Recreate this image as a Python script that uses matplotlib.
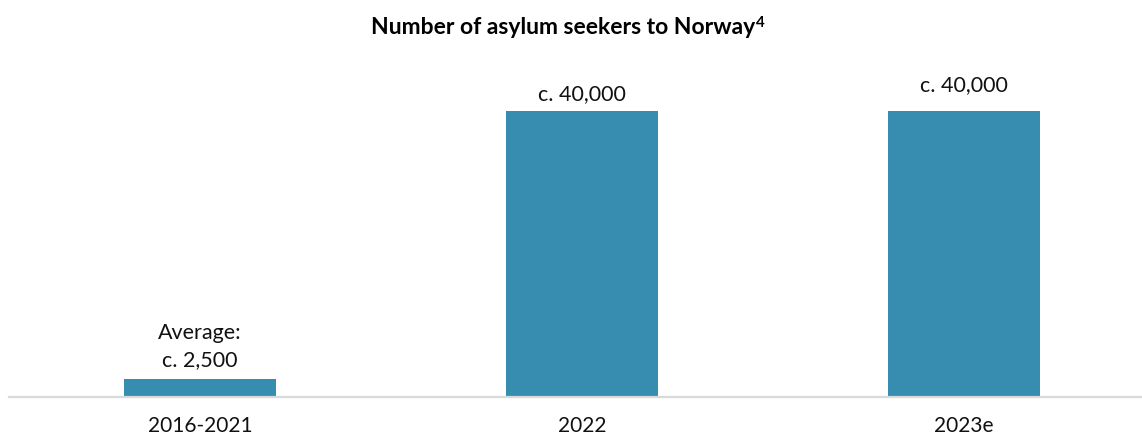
import matplotlib
matplotlib.use("Agg")
import matplotlib.pyplot as plt

# data
categories = ["2016-2021", "2022", "2023e"]
values = [2500, 40000, 40000]
labels = ["Average:\nc. 2,500", "c. 40,000", "c. 40,000"]

plt.rcParams['font.family'] = ['Lato', 'DejaVu Sans']

fig = plt.figure(figsize=(11.42, 4.39), dpi=100)
ax = fig.add_axes([9 / 1142, 41 / 439, 1 - 9 / 1142, (398 - 60) / 439])

x = range(len(categories))
bars = ax.bar(x, values, width=0.4, color="#378daf")

ax.set_xlim(-0.5, 2.5 - 13 / 382)
ax.set_ylim(0, 40000 * 338 / 286)

# value labels (last one sits a little higher in the original)
offsets = [7, 6, 12]
for b, lab, off in zip(bars, labels, offsets):
    ax.annotate(lab, (b.get_x() + b.get_width() / 2, b.get_height()),
                xytext=(0, off), textcoords="offset points",
                ha="center", va="bottom", fontsize=15.5, linespacing=1.45,
                color="#111111")

ax.set_xticks(list(x))
ax.set_xticklabels(categories, fontsize=15, color="#111111")
ax.tick_params(axis="x", length=0, pad=13)
ax.set_yticks([])
for s in ["top", "right", "left"]:
    ax.spines[s].set_visible(False)
ax.spines["bottom"].set_color("#d9d9d9")
ax.spines["bottom"].set_linewidth(1.6)

# title with a separate superscript
title = fig.text(0.5 - 8 / 1142, 1 - 27 / 439, "Number of asylum seekers to Norway",
                 ha="center", va="center", fontsize=16.5, fontweight="bold")
fig.canvas.draw()
bb = title.get_window_extent()
fig.text(bb.x1 / 1142 + 1 / 1142, bb.y1 / 439 + 1 / 439, "4",
         ha="left", va="top", fontsize=11, fontweight="bold")

fig.savefig("out.png", dpi=100)
